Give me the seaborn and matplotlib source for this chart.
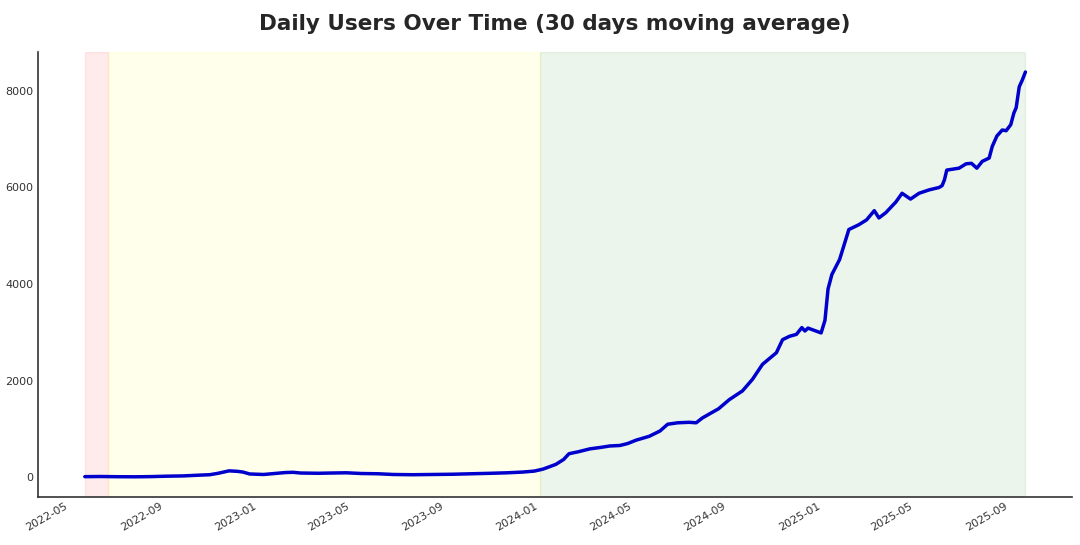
import pandas as pd
import matplotlib
matplotlib.use('Agg')
import matplotlib.pyplot as plt
import matplotlib.dates as mdates
import seaborn as sns

# 30-day moving average of daily users
dates = [
    '2022-05-21', '2022-06-10', '2022-07-01', '2022-07-25', '2022-08-15',
    '2022-09-05', '2022-09-25', '2022-10-15', '2022-10-30', '2022-11-10',
    '2022-11-24', '2022-12-05', '2022-12-12', '2022-12-21', '2023-01-08',
    '2023-01-22', '2023-02-05', '2023-02-15', '2023-02-25', '2023-03-20',
    '2023-04-05', '2023-04-25', '2023-05-15', '2023-06-05', '2023-06-25',
    '2023-07-20', '2023-08-15', '2023-09-10', '2023-10-05', '2023-10-30',
    '2023-11-20', '2023-12-10', '2023-12-25', '2024-01-05', '2024-01-12',
    '2024-01-22', '2024-02-01', '2024-02-08', '2024-02-20', '2024-03-06',
    '2024-03-20', '2024-04-01', '2024-04-14', '2024-04-24', '2024-05-05',
    '2024-05-22', '2024-06-05', '2024-06-15', '2024-06-28', '2024-07-13',
    '2024-07-22', '2024-07-30', '2024-08-10', '2024-08-20', '2024-09-03',
    '2024-09-20', '2024-10-03', '2024-10-16', '2024-10-25', '2024-11-03',
    '2024-11-11', '2024-11-20', '2024-11-29', '2024-12-06', '2024-12-10',
    '2024-12-14', '2024-12-31', '2025-01-05', '2025-01-09', '2025-01-14',
    '2025-01-24', '2025-02-05', '2025-02-18', '2025-02-28', '2025-03-10',
    '2025-03-16', '2025-03-25', '2025-04-07', '2025-04-15', '2025-04-26',
    '2025-05-07', '2025-05-20', '2025-06-02', '2025-06-06', '2025-06-09',
    '2025-06-12', '2025-06-28', '2025-07-07', '2025-07-14', '2025-07-21',
    '2025-07-28', '2025-08-06', '2025-08-10', '2025-08-16', '2025-08-23',
    '2025-08-28', '2025-09-03', '2025-09-07', '2025-09-10', '2025-09-14',
    '2025-09-18', '2025-09-22',
]
users = [
    15, 18, 14, 12, 16,
    25, 30, 45, 55, 85,
    135, 125, 110, 70, 60,
    80, 100, 105, 90, 85,
    90, 95, 80, 75, 60,
    55, 60, 65, 75, 85,
    95, 110, 130, 170, 210,
    270, 370, 490, 530, 590,
    620, 650, 660, 700, 770,
    850, 960, 1100, 1130, 1140,
    1130, 1230, 1330, 1420, 1610,
    1790, 2030, 2340, 2460, 2580,
    2850, 2920, 2960, 3100, 3030,
    3090, 2990, 3250, 3900, 4200,
    4510, 5130, 5230, 5330, 5520,
    5370, 5480, 5700, 5880, 5760,
    5880, 5950, 6000, 6040, 6160,
    6360, 6400, 6490, 6500, 6400,
    6540, 6610, 6850, 7065, 7190,
    7175, 7300, 7540, 7650, 8085,
    8225, 8390,
]

# shaded phases
phase_start = ['2022-05-21', '2022-06-20', '2024-01-01']
phase_end = ['2022-06-20', '2024-01-01', '2025-09-22']
phase_color = ['red', 'yellow', 'green']

df = pd.DataFrame({'date': pd.to_datetime(dates), 'users': users})

sns.set_style('white')
plt.rcParams['font.family'] = ['DejaVu Sans']

fig, ax = plt.subplots(figsize=(10.8, 5.45), dpi=100)
fig.subplots_adjust(left=0.035, right=0.993, bottom=0.088, top=0.905)

for s, e, c in zip(phase_start, phase_end, phase_color):
    ax.axvspan(pd.Timestamp(s), pd.Timestamp(e), color=c, alpha=0.08)

sns.lineplot(data=df, x='date', y='users', color='mediumblue', linewidth=2.5, ax=ax)

ax.set_title('Daily Users Over Time (30 days moving average)', fontsize=15.5,
             fontweight='bold', color='#262626', pad=16)
ax.set_xlabel('')
ax.set_ylabel('')
ax.xaxis.set_major_locator(mdates.MonthLocator(bymonth=[1, 5, 9]))
ax.xaxis.set_major_formatter(mdates.DateFormatter('%Y-%m'))
for lbl in ax.get_xticklabels():
    lbl.set_rotation(30)
    lbl.set_ha('right')
ax.tick_params(labelsize=8, colors='#333333', length=0, pad=3)
sns.despine(ax=ax)
for sp in ['left', 'bottom']:
    ax.spines[sp].set_color('#333333')
    ax.spines[sp].set_linewidth(1.2)

plt.savefig('out.png')
